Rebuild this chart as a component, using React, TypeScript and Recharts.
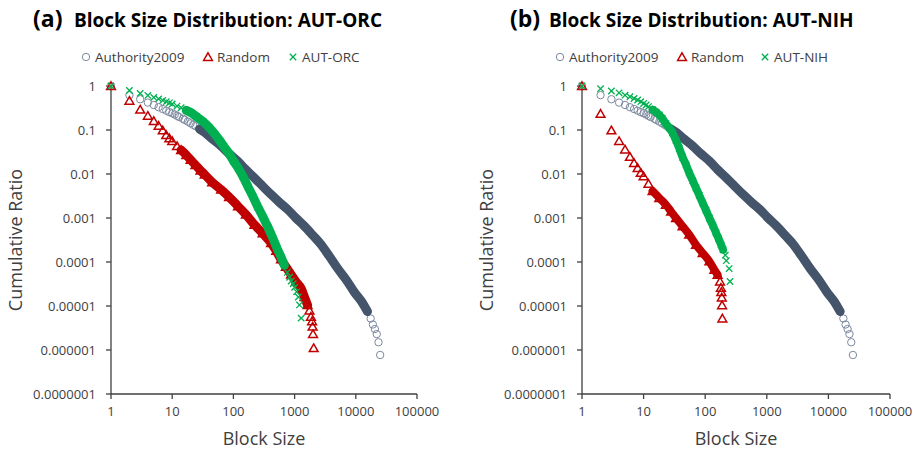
import React from "react";
import { ScatterChart, Scatter, XAxis, YAxis } from "recharts";

type Pt = [number, number];

// tick values for both log axes
const xTicks = [1, 10, 100, 1000, 10000, 100000];
const yTicks = [1, 0.1, 0.01, 0.001, 0.0001, 0.00001, 0.000001, 0.0000001];

// block size -> cumulative ratio
const authority2009: Pt[] = [
  [1, 1], [2, 0.62], [3, 0.5], [4, 0.42], [5, 0.37], [6, 0.33], [7, 0.3], [8, 0.275],
  [9, 0.255], [10, 0.24], [11, 0.225], [12, 0.21], [13, 0.197], [15, 0.18], [16, 0.17],
  [18, 0.155], [20, 0.142], [22, 0.131], [24, 0.122], [28, 0.105], [34, 0.088], [45, 0.063],
  [63, 0.043], [85, 0.029], [118, 0.0195], [160, 0.0125], [221, 0.0081], [300, 0.0053],
  [414, 0.0034], [560, 0.0023], [775, 0.00155], [1050, 0.001], [1450, 0.00065], [2000, 0.0004],
  [2700, 0.00025], [3700, 0.000135], [5000, 0.000073], [7000, 0.000039], [9400, 0.000021],
  [12500, 0.0000125], [15500, 0.0000075], [17500, 0.0000052], [19000, 0.0000038],
  [20500, 0.000003], [22000, 0.0000023], [23500, 0.0000015], [25000, 0.00000077],
];

const randomOrc: Pt[] = [
  [1, 1], [2, 0.46], [3, 0.29], [4, 0.21], [5, 0.16], [6, 0.125], [7, 0.098], [8, 0.077],
  [9, 0.065], [10, 0.056], [12, 0.043], [14, 0.035], [17, 0.027], [20, 0.021], [24, 0.016],
  [29, 0.012], [34, 0.0097], [45, 0.0065], [63, 0.0044], [85, 0.003], [119, 0.00185],
  [160, 0.0012], [221, 0.0007], [300, 0.00045], [414, 0.00027], [500, 0.00018], [600, 0.000115],
  [720, 0.000078], [875, 0.000052], [1050, 0.000036], [1280, 0.000025], [1450, 0.000016],
  [1630, 0.0000105], [1750, 0.0000079], [1850, 0.0000057], [1930, 0.0000045],
  [1970, 0.0000034], [2000, 0.0000023], [2050, 0.0000011],
];

const autOrc: Pt[] = [
  [1, 1], [2, 0.79], [3, 0.68], [4, 0.61], [5, 0.55], [6, 0.51], [7, 0.47], [8, 0.44],
  [9, 0.415], [10, 0.39], [12, 0.35], [14, 0.32], [17, 0.28], [20, 0.25], [25, 0.2],
  [32, 0.155], [40, 0.115], [50, 0.08], [60, 0.057], [70, 0.042], [85, 0.029], [100, 0.02],
  [120, 0.0135], [143, 0.0088], [175, 0.005], [208, 0.0031], [250, 0.0018], [303, 0.00107],
  [370, 0.0006], [440, 0.00035], [520, 0.0002], [600, 0.00013], [680, 0.000085],
  [760, 0.000058], [830, 0.000045], [880, 0.000037], [950, 0.000032], [1000, 0.0000265],
  [1080, 0.000021], [1150, 0.000016], [1200, 0.0000106], [1280, 0.0000053],
];

const randomNih: Pt[] = [
  [1, 1], [2, 0.234], [3, 0.098], [4, 0.056], [5, 0.036], [6, 0.0245], [7, 0.0178],
  [8, 0.0137], [9, 0.0106], [10, 0.0089], [12, 0.006], [14, 0.0041], [18, 0.00285],
  [23, 0.002], [28, 0.0014], [33.6, 0.001], [43, 0.00065], [55, 0.00042], [71, 0.000246],
  [91, 0.00016], [117, 0.000103], [141, 0.000066], [159, 0.000051], [174, 0.000036],
  [180, 0.000026], [183, 0.0000208], [186, 0.0000156], [188, 0.0000104], [190, 0.0000052],
];

const autNih: Pt[] = [
  [1, 1], [2, 0.87], [3, 0.77], [4, 0.7], [5, 0.62], [6, 0.57], [7, 0.52], [8, 0.48],
  [9, 0.44], [10, 0.4], [11, 0.37], [12, 0.34], [14, 0.29], [16, 0.255], [18, 0.22],
  [20, 0.185], [23, 0.14], [26, 0.112], [29.5, 0.086], [33.6, 0.058], [38, 0.038], [43, 0.024],
  [49, 0.016], [55, 0.0106], [63, 0.007], [71, 0.0048], [80, 0.0033], [91, 0.0022],
  [103, 0.0015], [117, 0.001], [133, 0.00068], [150, 0.00046], [165, 0.00034], [181, 0.000246],
  [195, 0.00019], [212, 0.000143], [220, 0.000107], [245, 0.000071], [253, 0.000036],
];

const GRAY = "#44546a";
const GRAY_MARK = "#7d89a0";
const RED = "#c00000";
const GREEN = "#00b050";
const AXIS = "#404040";
const FONT = "'Open Sans', sans-serif";

type Kind = "circle" | "triangle" | "cross";

type Series = {
  name: string;
  pts: Pt[];
  color: string;
  kind: Kind;
  band: [number, number]; // x range where the markers pile up into a solid stroke
  bandWidth: number;
};

function Marker({ kind, cx, cy }: { kind: Kind; cx: number; cy: number }) {
  if (kind === "circle")
    return <circle cx={cx} cy={cy} r={3.7} fill="none" stroke={GRAY_MARK} strokeWidth={1} />;
  if (kind === "triangle")
    return (
      <path
        d={`M${cx},${cy - 4.2}L${cx + 4.4},${cy + 3.4}L${cx - 4.4},${cy + 3.4}Z`}
        fill="none"
        stroke={RED}
        strokeWidth={1.5}
      />
    );
  return (
    <path
      d={`M${cx - 3.2},${cy - 3.2}L${cx + 3.2},${cy + 3.2}M${cx - 3.2},${cy + 3.2}L${cx + 3.2},${cy - 3.2}`}
      stroke={GREEN}
      strokeWidth={1.3}
    />
  );
}

const toRows = (pts: Pt[]) => pts.map(([x, y]) => ({ x, y }));

const fmtY = (v: number) => (v >= 1 ? "1" : v.toFixed(Math.round(-Math.log10(v))));

type PanelProps = {
  width: number;
  marginLeft: number;
  marginRight: number;
  tag: string;
  title: string;
  tagX: number;
  titleX: number;
  legendX: number[];
  series: Series[];
};

function Panel(p: PanelProps) {
  const plotLeft = p.marginLeft + 100;
  const plotRight = p.width - p.marginRight;
  return (
    <div style={{ position: "relative", width: p.width, height: 452 }}>
      <ScatterChart
        width={p.width}
        height={452}
        margin={{ top: 86, right: p.marginRight, bottom: 18, left: p.marginLeft }}
      >
        <XAxis
          type="number"
          dataKey="x"
          scale="log"
          domain={[1, 100000]}
          ticks={xTicks}
          interval={0}
          height={40}
          tickSize={5}
          tickMargin={8}
          axisLine={{ stroke: AXIS, strokeWidth: 1.3 }}
          tickLine={{ stroke: AXIS, strokeWidth: 1.3 }}
          tick={{ fill: AXIS, fontSize: 13, fontFamily: FONT }}
          tickFormatter={(v: number) => String(v)}
        />
        <YAxis
          type="number"
          dataKey="y"
          scale="log"
          domain={[0.0000001, 1]}
          ticks={yTicks}
          interval={0}
          width={100}
          tickSize={5}
          tickMargin={10}
          axisLine={{ stroke: AXIS, strokeWidth: 1.3 }}
          tickLine={{ stroke: AXIS, strokeWidth: 1.3 }}
          tick={{ fill: AXIS, fontSize: 13, fontFamily: FONT }}
          tickFormatter={fmtY}
        />
        {p.series.flatMap((s) => [
          <Scatter
            key={s.name}
            name={s.name}
            data={toRows(s.pts)}
            fill={s.color}
            shape={(d: any) => <Marker kind={s.kind} cx={d.cx} cy={d.cy} />}
            isAnimationActive={false}
          />,
          // dense middle part: markers overlap into one solid stroke
          <Scatter
            key={s.name + "-band"}
            data={toRows(s.pts.filter(([x]) => x >= s.band[0] && x <= s.band[1]))}
            fill={s.color}
            line={{ stroke: s.color, strokeWidth: s.bandWidth, strokeLinecap: "round", strokeLinejoin: "round" }}
            lineJointType="monotoneX"
            shape={() => <g />}
            isAnimationActive={false}
          />,
        ])}
      </ScatterChart>
      <svg
        width={p.width}
        height={452}
        style={{ position: "absolute", left: 0, top: 0, pointerEvents: "none" }}
      >
        <text x={p.tagX} y={27} fontFamily={FONT} fontWeight={700} fontSize={23} fill="#000">
          {p.tag}
        </text>
        <text x={p.titleX} y={27} fontFamily={FONT} fontWeight={700} fontSize={19} fill="#000">
          {p.title}
        </text>
        {p.series.map((s, i) => (
          <g key={s.name}>
            <Marker kind={s.kind} cx={p.legendX[i]} cy={57} />
            <text x={p.legendX[i] + 9} y={62} fontFamily={FONT} fontSize={13.5} fill={AXIS}>
              {s.name}
            </text>
          </g>
        ))}
        <text
          x={plotLeft - 89}
          y={240}
          transform={`rotate(-90, ${plotLeft - 89}, 240)`}
          textAnchor="middle"
          fontFamily={FONT}
          fontSize={18}
          fill={AXIS}
        >
          Cumulative Ratio
        </text>
        <text
          x={(plotLeft + plotRight) / 2}
          y={445}
          textAnchor="middle"
          fontFamily={FONT}
          fontSize={18}
          fill={AXIS}
        >
          Block Size
        </text>
      </svg>
    </div>
  );
}

const orcSeries: Series[] = [
  { name: "Authority2009", pts: authority2009, color: GRAY, kind: "circle", band: [28, 15500], bandWidth: 9 },
  { name: "Random", pts: randomOrc, color: RED, kind: "triangle", band: [14, 1630], bandWidth: 9 },
  { name: "AUT-ORC", pts: autOrc, color: GREEN, kind: "cross", band: [17, 680], bandWidth: 9 },
];

const nihSeries: Series[] = [
  { name: "Authority2009", pts: authority2009, color: GRAY, kind: "circle", band: [28, 15500], bandWidth: 9 },
  { name: "Random", pts: randomNih, color: RED, kind: "triangle", band: [14, 159], bandWidth: 8 },
  { name: "AUT-NIH", pts: autNih, color: GREEN, kind: "cross", band: [14, 195], bandWidth: 8 },
];

export default function App() {
  return (
    <div
      style={{
        position: "absolute",
        left: 0,
        top: 0,
        width: 919,
        height: 452,
        display: "flex",
        background: "#fff",
      }}
    >
      <Panel
        width={460}
        marginLeft={11}
        marginRight={43}
        tag="(a)"
        title="Block Size Distribution: AUT-ORC"
        tagX={33}
        titleX={74}
        legendX={[86, 208, 293]}
        series={orcSeries}
      />
      <Panel
        width={459}
        marginLeft={22}
        marginRight={29}
        tag="(b)"
        title="Block Size Distribution: AUT-NIH"
        tagX={50}
        titleX={89}
        legendX={[100, 222, 305]}
        series={nihSeries}
      />
    </div>
  );
}
